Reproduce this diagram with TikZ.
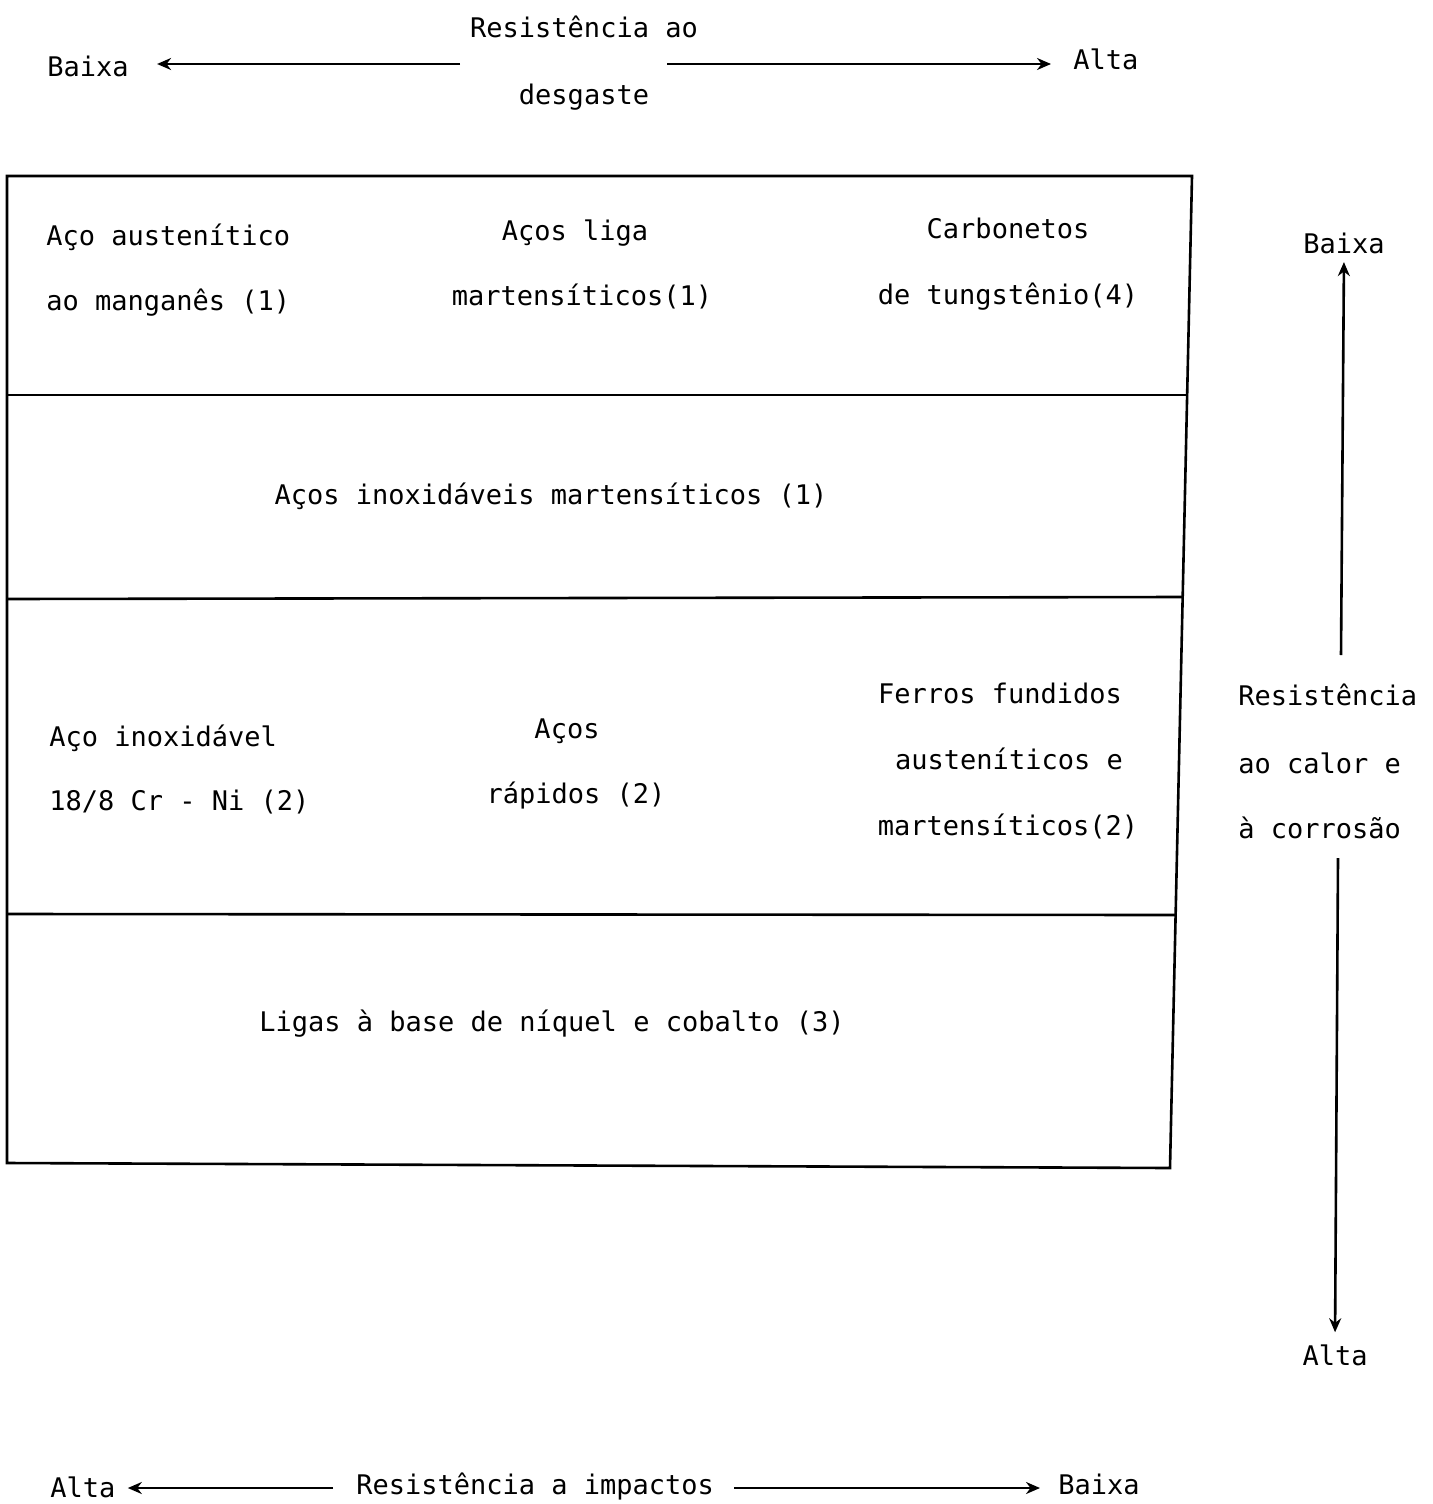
\documentclass[tikz,border=0pt]{standalone}
\usepackage{fontspec}
\setmonofont{DejaVu Sans Mono}
\usetikzlibrary{arrows.meta}
\begin{document}
\begin{tikzpicture}[x=0.5pt,y=-0.5pt,
  txt/.style={font=\ttfamily\fontsize{13.5pt}{16pt}\selectfont, inner sep=0pt, yshift=-1.5pt},
  ln/.style={line width=1.3pt},
  arr/.style={line width=1.3pt, -{Stealth[length=7pt,width=6pt]}}]
\useasboundingbox[fill=white] (0,0) rectangle (1433,1504);

% top axis
\node[txt, anchor=mid] (rd1) at (584,30) {Resistência ao};
\node[txt, anchor=mid] (rd2) at (584,97) {desgaste};
\node[txt, anchor=mid west] (tb) at (47,69) {Baixa};
\node[txt, anchor=mid west] (ta) at (1073,62) {Alta};
\coordinate (tl) at (460,64);
\coordinate (tr) at (667,64);
\draw[arr, shorten >=14pt] (tl) -- (tb.east |- tl);
\draw[arr, shorten >=11pt] (tr) -- (ta.west |- tr);

% box
\coordinate (b1) at (7,176);
\coordinate (b2) at (1192,176);
\coordinate (b3) at (1170,1168);
\coordinate (b4) at (7,1163);
\draw[ln] (b1) -- (b2) -- (b3) -- (b4) -- cycle;
\coordinate (h1l) at (7,395);  \coordinate (h1r) at (1187,395);
\coordinate (h2l) at (7,599);  \coordinate (h2r) at (1182,597);
\coordinate (h3l) at (7,914);  \coordinate (h3r) at (1175,915);
\draw[ln] (h1l) -- (h1r);
\draw[ln] (h2l) -- (h2r);
\draw[ln] (h3l) -- (h3r);

% row 1
\node[txt, anchor=mid west] (a1) at (46,238) {Aço austenítico};
\node[txt, anchor=mid west] (a2) at (46,303) {ao manganês (1)};
\node[txt, anchor=mid] (b1t) at (575,233) {Aços liga};
\node[txt, anchor=mid] (b2t) at (582,298) {martensíticos(1)};
\node[txt, anchor=mid] (c1t) at (1008,231) {Carbonetos};
\node[txt, anchor=mid] (c2t) at (1008,297) {de tungstênio(4)};

% row 2
\node[txt, anchor=mid] (r2) at (551,497) {Aços inoxidáveis martensíticos (1)};

% row 3
\node[txt, anchor=mid west] (d1) at (49,739) {Aço inoxidável};
\node[txt, anchor=mid west] (d2) at (49,803) {18/8 Cr - Ni (2)};
\node[txt, anchor=mid] (e1) at (567,731) {Aços};
\node[txt, anchor=mid] (e2) at (576,796) {rápidos (2)};
\node[txt, anchor=mid] (f1) at (1000,696) {Ferros fundidos};
\node[txt, anchor=mid] (f2) at (1009,762) {austeníticos e};
\node[txt, anchor=mid] (f3) at (1008,828) {martensíticos(2)};

% row 4
\node[txt, anchor=mid] (r4) at (552,1024) {Ligas à base de níquel e cobalto (3)};

% right axis
\node[txt, anchor=mid] (rb) at (1344,246) {Baixa};
\node[txt, anchor=mid west] (rr1) at (1238,698) {Resistência};
\node[txt, anchor=mid west] (rr2) at (1238,766) {ao calor e};
\node[txt, anchor=mid west] (rr3) at (1238,831) {à corrosão};
\node[txt, anchor=mid] (ra) at (1335,1358) {Alta};
\coordinate (ru) at (1341,655);
\coordinate (rdn) at (1338,858);
\draw[arr, shorten >=4pt] (ru) -- (rb.south);
\draw[arr, shorten >=6pt] (rdn) -- (ra.north);

% bottom axis
\node[txt, anchor=mid west] (ba) at (50,1490) {Alta};
\node[txt, anchor=mid west] (bm) at (356,1487) {Resistência a impactos};
\node[txt, anchor=mid west] (bb) at (1058,1487) {Baixa};
\draw[arr, shorten >=6pt] (bm.west |- 0,1488) ++(-23,0) coordinate (bl) -- (ba.east |- bl);
\draw[arr, shorten >=9pt] (bm.east |- 0,1488) ++(20,0) coordinate (br) -- (bb.west |- br);
\end{tikzpicture}
\end{document}
